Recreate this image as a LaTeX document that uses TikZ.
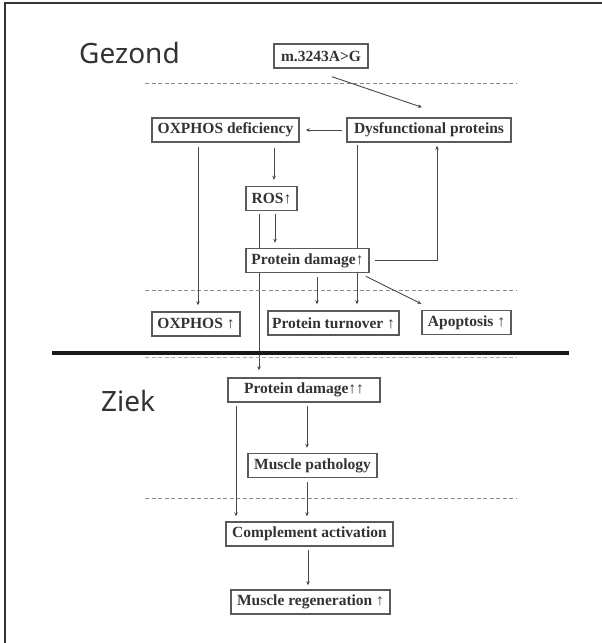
\documentclass[tikz,border=0pt]{standalone}
\usepackage{fontspec}
\setmainfont{Liberation Serif}
\newfontfamily\labelfont{Noto Sans}
\usetikzlibrary{arrows.meta,backgrounds}
\definecolor{boxgray}{HTML}{5A5A5A}
\definecolor{txtgray}{HTML}{333333}
\definecolor{linegray}{HTML}{484848}
\definecolor{dashgray}{HTML}{8A8A8A}
\begin{document}
\begin{tikzpicture}[x=1pt,y=-1pt,
  box/.style={draw=boxgray,line width=1.4pt,fill=white,text=txtgray,
    font=\bfseries\fontsize{15.5}{15.5}\selectfont,inner sep=0pt,minimum height=24pt},
  conn/.style={draw=linegray,line width=0.9pt},
  arr/.style={conn,-{Stealth[length=4pt,width=3.5pt]}},
  sep/.style={draw=dashgray,line width=0.9pt,dash pattern=on 4pt off 2.5pt},
  title/.style={font=\labelfont\fontsize{28}{28}\selectfont,text=txtgray,anchor=base west,inner sep=0pt}]
\useasboundingbox (0,0) rectangle (602,643);

% frame
\draw[line width=1.5pt,black!80] (5,643) -- (5,3) -- (602,3);

% titles
\node[title] (gez) at (79,63) {Gezond};
\node[title] (ziek) at (101,411) {Ziek};

% separators
\draw[sep] (145,83) -- (517,83);
\draw[sep] (145,290) -- (517,290);
\draw[sep,dashgray!70] (145,357) -- (517,357);
\draw[sep] (145,498) -- (517,498);
\draw[line width=4pt,black!90] (52,353) -- (569,353);

% boxes
\node[box,minimum width=94pt] (mut) at (321,56) {m.3243A>G};
\node[box,minimum width=147pt] (oxdef) at (225.5,130) {OXPHOS deficiency};
\node[box,minimum width=164pt] (dysf) at (429,130) {Dysfunctional proteins};
\node[box,minimum width=51pt] (ros) at (271.5,198.5) {ROS↑};
\node[box,minimum width=123pt] (pdone) at (307.5,260.5) {Protein damage↑};
\node[box,minimum width=88pt] (oxup) at (196,324) {OXPHOS ↑};
\node[box,minimum width=131pt] (turn) at (333.5,323) {Protein turnover ↑};
\node[box,minimum width=89pt] (apop) at (466.5,322.5) {Apoptosis ↑};
\node[box,minimum width=152pt] (pdtwo) at (304,390) {Protein damage↑↑};
\node[box,minimum width=129pt] (musc) at (312.5,465.5) {Muscle pathology};
\node[box,minimum width=167pt] (comp) at (309.5,534) {Complement activation};
\node[box,minimum width=159pt] (regen) at (310.5,602) {Muscle regeneration ↑};

% connectors passing behind Protein damage box
\begin{scope}[on background layer]
\fill[white] (0,0) rectangle (602,643);
\draw[arr,shorten <=3pt,shorten >=7pt] ([xshift=-12.5pt]ros.south) coordinate (r1) -- (r1 |- pdtwo.north);
\draw[arr,shorten <=2pt,shorten >=6pt] ([xshift=-72pt]dysf.south) coordinate (d1) -- (d1 |- turn.north);
\end{scope}

% connectors
\draw[arr] ([xshift=11pt,yshift=-8pt]mut.south) -- ([xshift=-7pt,yshift=10pt]dysf.north);
\draw[arr,shorten <=4pt,shorten >=6pt] (dysf.west) -- (oxdef.east);
\draw[arr,shorten <=4pt,shorten >=6pt] ([xshift=-27.5pt]oxdef.south) coordinate (o1) -- (o1 |- oxup.north);
\draw[arr,shorten <=5pt,shorten >=6pt] ([xshift=48.5pt]oxdef.south) coordinate (o2) -- (o2 |- ros.north);
\draw[arr,shorten <=3pt,shorten >=5pt] ([xshift=3.5pt]ros.south) coordinate (r2) -- (r2 |- pdone.north);
\draw[arr,shorten <=4pt,shorten >=6pt] ([xshift=9.5pt]pdone.south) coordinate (p1) -- (p1 |- turn.north);
\draw[arr] ([xshift=-4pt,yshift=-3pt]pdone.south east) -- ([yshift=6pt]apop.north west);
\draw[arr] ([xshift=5pt]pdone.east) -| ([xshift=8pt,yshift=-3pt]dysf.south);
\draw[arr,shorten <=3pt,shorten >=5pt] ([xshift=-68pt]pdtwo.south) coordinate (q1) -- (q1 |- comp.north);
\draw[arr,shorten <=3pt,shorten >=5pt] ([xshift=3pt]pdtwo.south) coordinate (q2) -- (q2 |- musc.north);
\draw[arr,shorten <=4pt,shorten >=5pt] ([xshift=-5.5pt]musc.south) coordinate (m1) -- (m1 |- comp.north);
\draw[arr,shorten <=3pt,shorten >=4pt] ([xshift=-1.5pt]comp.south) coordinate (c1) -- (c1 |- regen.north);
\end{tikzpicture}
\end{document}
